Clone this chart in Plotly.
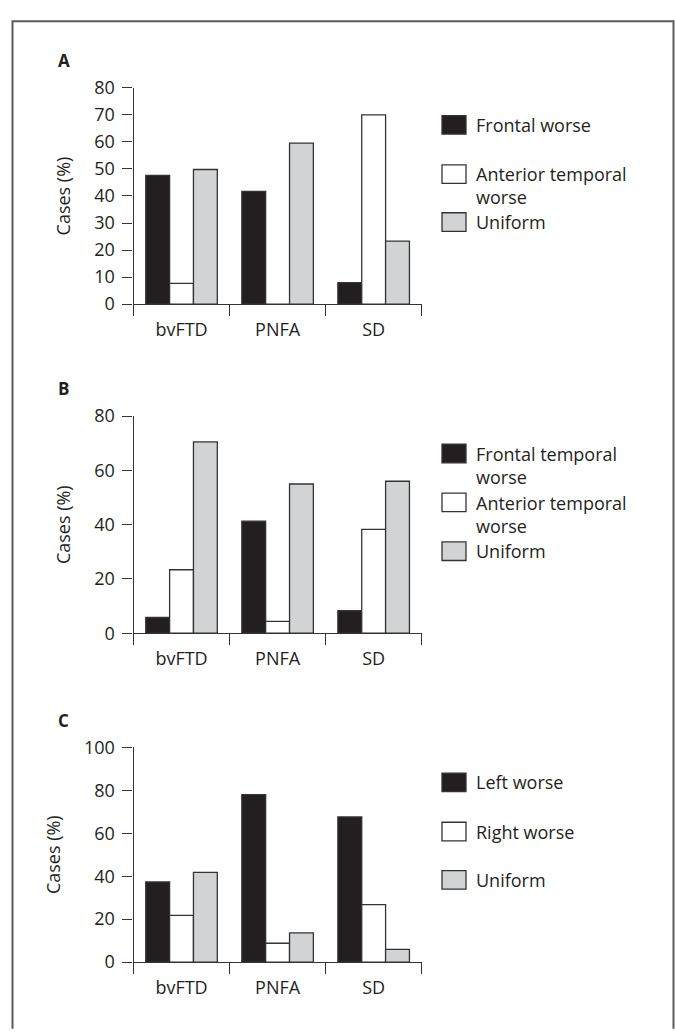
import plotly.graph_objects as go

W, H = 675, 1034

categories = ["bvFTD", "PNFA", "SD"]

# Panel A
a_names = ["Frontal worse", "Anterior temporal<br>worse", "Uniform"]
a_frontal = [47.6, 41.7, 7.9]
a_anterior = [7.7, 0.0, 70.0]
a_uniform = [49.8, 59.6, 23.3]

# Panel B
b_names = ["Frontal temporal<br>worse", "Anterior temporal<br>worse", "Uniform"]
b_frontal = [5.8, 41.3, 8.3]
b_anterior = [23.4, 4.4, 38.3]
b_uniform = [70.5, 55.0, 56.0]

# Panel C
c_names = ["Left worse", "Right worse", "Uniform"]
c_left = [37.3, 78.0, 67.6]
c_right = [21.8, 8.8, 26.8]
c_uniform = [41.8, 13.6, 5.9]

y_title = "Cases (%)"
letters = ["A", "B", "C"]

FILLS = ["#231f20", "#ffffff", "#d1d3d4"]
EDGE = "#333333"
TXT = "#231f20"
FONT = "Open Sans"


def px(x):
    return x / W


def py(y):
    return 1 - y / H


panels = [
    dict(letter=letters[0], names=a_names, series=[a_frontal, a_anterior, a_uniform],
         top=76.7, bottom=298.0, ymax=80, dtick=10, letter_y=48.5,
         leg=[114.5, 165.0, 214.0]),
    dict(letter=letters[1], names=b_names, series=[b_frontal, b_anterior, b_uniform],
         top=412.7, bottom=635.0, ymax=80, dtick=20, letter_y=384.5,
         leg=[451.0, 501.0, 551.0]),
    dict(letter=letters[2], names=c_names, series=[c_left, c_right, c_uniform],
         top=751.7, bottom=971.7, ymax=100, dtick=20, letter_y=724.0,
         leg=[787.7, 838.0, 887.5]),
]

X0, X1 = 133.5, 421.7

fig = go.Figure()
shapes = []
annotations = []

for i, p in enumerate(panels):
    n = "" if i == 0 else str(i + 1)
    xa = "x" + n
    ya = "y" + n
    for k, vals in enumerate(p["series"]):
        fig.add_trace(go.Bar(
            x=categories, y=vals, name=p["names"][k].replace("<br>", " "),
            xaxis=xa, yaxis=ya, showlegend=False,
            marker=dict(color=FILLS[k], line=dict(color=EDGE, width=1.3)),
            offsetgroup=str(k),
        ))
    axis_common = dict(showline=True, linecolor=EDGE, linewidth=1.2,
                       ticks="outside", tickcolor=EDGE, tickwidth=1.2,
                       showgrid=False, zeroline=False,
                       tickfont=dict(family=FONT, size=18, color=TXT))
    fig.update_layout(**{
        ("xaxis" + n): dict(domain=[px(X0), px(X1)], anchor=ya, type="category",
                            tickson="boundaries", ticklen=11, range=[-0.5, 2.5],
                            ticklabelstandoff=9, fixedrange=True, **axis_common),
        ("yaxis" + n): dict(domain=[py(p["bottom"]), py(p["top"])], anchor=xa,
                            range=[0, p["ymax"]], dtick=p["dtick"], tick0=0,
                            ticklen=10, ticklabelstandoff=4,
                            title=dict(text=y_title, standoff=18,
                                       font=dict(family=FONT, size=18, color=TXT)),
                            **axis_common),
    })
    # panel letter
    annotations.append(dict(xref="paper", yref="paper", x=px(56), y=py(p["letter_y"]),
                            xanchor="left", yanchor="middle", showarrow=False,
                            text="<b>%s</b>" % p["letter"],
                            font=dict(family=FONT, size=17, color=TXT)))
    # legend
    for k, cy in enumerate(p["leg"]):
        shapes.append(dict(type="rect", xref="paper", yref="paper",
                           x0=px(442), x1=px(466), y0=py(cy + 9.5), y1=py(cy - 9.5),
                           fillcolor=FILLS[k], line=dict(color=EDGE, width=1.3)))
        label = p["names"][k]
        two = "<br>" in label
        annotations.append(dict(xref="paper", yref="paper", x=px(474),
                                y=py(cy + (12.0 if two else 0.0)),
                                xanchor="left", yanchor="middle", align="left",
                                showarrow=False, text=label,
                                font=dict(family=FONT, size=18, color=TXT)))

# outer frame (left, top, right; bottom runs off the page)
shapes.append(dict(type="path", xref="paper", yref="paper",
                   path="M %f %f L %f %f L %f %f L %f %f" % (
                       px(12.5), py(1040), px(12.5), py(8.5), px(673.5), py(8.5), px(673.5), py(1040)),
                   line=dict(color="#5a5a5a", width=2)))

fig.update_layout(width=W, height=H, autosize=False,
                  margin=dict(l=0, r=0, t=0, b=0),
                  paper_bgcolor="white", plot_bgcolor="white",
                  barmode="group", bargap=0.255, bargroupgap=0,
                  font=dict(family=FONT, size=18, color=TXT),
                  shapes=shapes, annotations=annotations)

fig.write_html("out.html", config={"displayModeBar": False})
